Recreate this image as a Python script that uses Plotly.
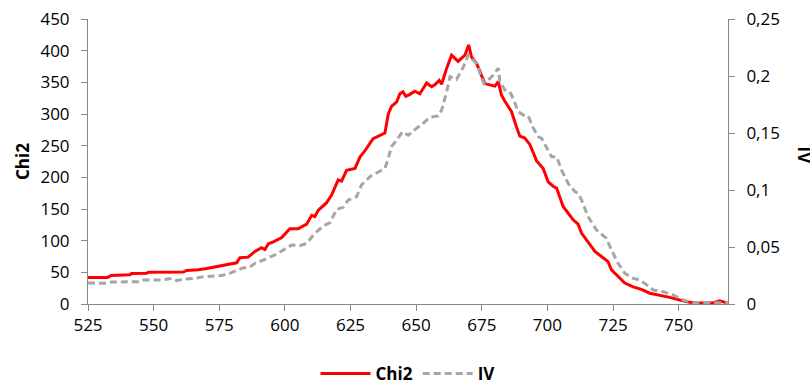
import plotly.graph_objects as go

# ---- data ----
chi2_x = [525, 532.5, 533.8, 541, 541.6, 547.3, 548, 561.3, 562.6, 567, 570.2, 572.7, 575.3,
          577.2, 578.4, 581.6, 582.9, 586, 588.6, 591.1, 592.4, 593.7, 595.6, 598.8, 601.9,
          605.1, 608.3, 610.2, 611.4, 612.7, 615.9, 617.8, 620.3, 621.6, 623.5, 626.7, 628.6,
          630.5, 633.6, 635.5, 638.1, 639.4, 640.6, 642.6, 643.8, 645, 646.1, 647.6, 649.5,
          651.4, 654, 655.9, 657.1, 658.8, 659.7, 661.6, 663.5, 666, 668.6, 670, 671.1, 673,
          674.3, 676.2, 678.1, 680, 681.3, 682.5, 683.8, 685, 686.3, 688.2, 689.5, 691.4,
          693.3, 695.9, 698.4, 700.3, 702.2, 703.5, 706, 709.8, 711.7, 713, 715.5, 718.1,
          720.6, 723.1, 724.4, 726.9, 729.5, 732.7, 735.8, 739, 742.8, 746.6, 750.4, 754.2,
          758, 763, 765.6, 768.2]
chi2_y = [42, 42, 45, 46, 48, 48.5, 50, 50.5, 53, 54, 56, 58, 60,
          61.5, 63.6, 65, 73, 74, 83, 89, 86, 95, 98, 105, 119,
          119, 126, 140, 138, 148, 160, 172, 196, 194, 211, 214, 232,
          242, 261, 265, 270, 300, 312, 319, 332, 335, 328, 331, 336,
          332, 349, 343, 346, 353, 347, 372, 393, 383, 393, 409, 390, 380,
          367, 348, 346, 344, 351, 330, 320, 312, 304, 280, 265, 262,
          252, 226, 214, 193, 186, 183, 154, 133, 126, 112, 98, 83,
          75, 67, 54, 44, 33, 27, 23, 17, 14, 10.5, 6.3, 2.6,
          1.5, 1.5, 5, 2]

iv_x = [525, 531.5, 534, 544.2, 546, 553, 557, 558.8, 562, 565.7, 569, 575.9, 579.7,
        583.5, 586.7, 588.6, 591.8, 596.2, 599.4, 602.6, 605.7, 608.3, 611.4, 614.6,
        617.2, 619.7, 622.2, 624.1, 627.3, 629.2, 632.4, 635.5, 638.1, 639.4, 640.6,
        642.6, 644.8, 647, 649.5, 652.7, 655.2, 658.4, 659.7, 661.6, 662.9, 665.4, 668,
        669.9, 671.1, 673, 674.3, 675.8, 677.5, 679.4, 681.3, 681.9, 683.8, 685.7, 687,
        688.9, 690.8, 692.7, 694.6, 696.5, 697.8, 699.7, 701.6, 703.5, 705.4, 707.9,
        710.5, 711.7, 713, 715.5, 718.7, 722.5, 724.4, 726.9, 729.5, 732.7, 735.2,
        737.1, 740.3, 744.1, 747.9, 751.7, 755.5, 769]
iv_y = [0.0185, 0.0181, 0.0193, 0.0196, 0.021, 0.021, 0.0225, 0.0205, 0.022, 0.0225, 0.024,
        0.0249, 0.0275, 0.0313, 0.0325, 0.0357, 0.0386, 0.043, 0.0474, 0.0518, 0.0512,
        0.0532, 0.062, 0.0684, 0.0713, 0.083, 0.0848, 0.0912, 0.0941, 0.1044, 0.1117,
        0.116, 0.119, 0.1278, 0.138, 0.1439, 0.151, 0.148, 0.153, 0.1585, 0.1637, 0.165,
        0.170, 0.186, 0.1994, 0.197, 0.208, 0.2184, 0.2155, 0.211, 0.2024, 0.1936, 0.1965,
        0.2009, 0.2068, 0.195, 0.1877, 0.1862, 0.180, 0.1687, 0.1658, 0.165, 0.1545,
        0.1468, 0.1453, 0.1366, 0.1292, 0.1292, 0.1175, 0.1058, 0.0985, 0.0971, 0.0912,
        0.0766, 0.0649, 0.0576, 0.0474, 0.0357, 0.0269, 0.0225, 0.021, 0.0181, 0.0123,
        0.0108, 0.0079, 0.0035, 0.0012, 0.0012]

x_ticks = [525, 550, 575, 600, 625, 650, 675, 700, 725, 750]
y1_ticks = [0, 50, 100, 150, 200, 250, 300, 350, 400, 450]
y2_ticks = [0, 0.05, 0.1, 0.15, 0.2, 0.25]
y2_labels = ["0", "0,05", "0,1", "0,15", "0,2", "0,25"]

FONT = "Open Sans"
AX = "#898989"

fig = go.Figure()
fig.add_trace(go.Scatter(x=chi2_x, y=chi2_y, mode="lines", name="<b>Chi2</b>",
                         line=dict(color="#FF0000", width=3)))
fig.add_trace(go.Scatter(x=iv_x, y=iv_y, mode="lines", name="<b>IV</b>", yaxis="y2",
                         line=dict(color="#A6A6A6", width=3, dash="7px,4px")))

fig.update_layout(
    width=810, height=385,
    margin=dict(l=88, r=82, t=19, b=81, autoexpand=False),
    paper_bgcolor="white", plot_bgcolor="white",
    font=dict(family=FONT, size=17, color="#000000"),
    showlegend=True,
    legend=dict(orientation="h", x=0.5, xanchor="center", y=-0.245, yanchor="middle",
                font=dict(family=FONT, size=17), bgcolor="rgba(0,0,0,0)",
                itemwidth=50),
    xaxis=dict(range=[525, 768.8], tickvals=x_ticks, showgrid=False, zeroline=False,
               showline=True, linecolor=AX, linewidth=1, ticks="outside", ticklen=6,
               tickcolor=AX, automargin=False),
    yaxis=dict(range=[0, 450], tickvals=y1_ticks, showgrid=False, zeroline=False,
               showline=True, linecolor=AX, linewidth=1, ticks="outside", ticklen=6,
               tickcolor=AX, ticklabelstandoff=8, automargin=False,
               title=dict(text="<b>Chi2</b>", font=dict(family=FONT, size=17), standoff=6)),
    yaxis2=dict(range=[0, 0.25], tickvals=y2_ticks, ticktext=y2_labels, overlaying="y",
                side="right", showgrid=False, zeroline=False, showline=True, linecolor=AX,
                linewidth=1, ticks="outside", ticklen=6, tickcolor=AX, ticklabelstandoff=8,
                automargin=False),
    annotations=[dict(text="<b>IV</b>", xref="paper", yref="paper", x=1.098, y=0.52,
                      xanchor="left", yanchor="middle", textangle=90, showarrow=False,
                      font=dict(family=FONT, size=17))],
)

fig.write_html("out.html")
